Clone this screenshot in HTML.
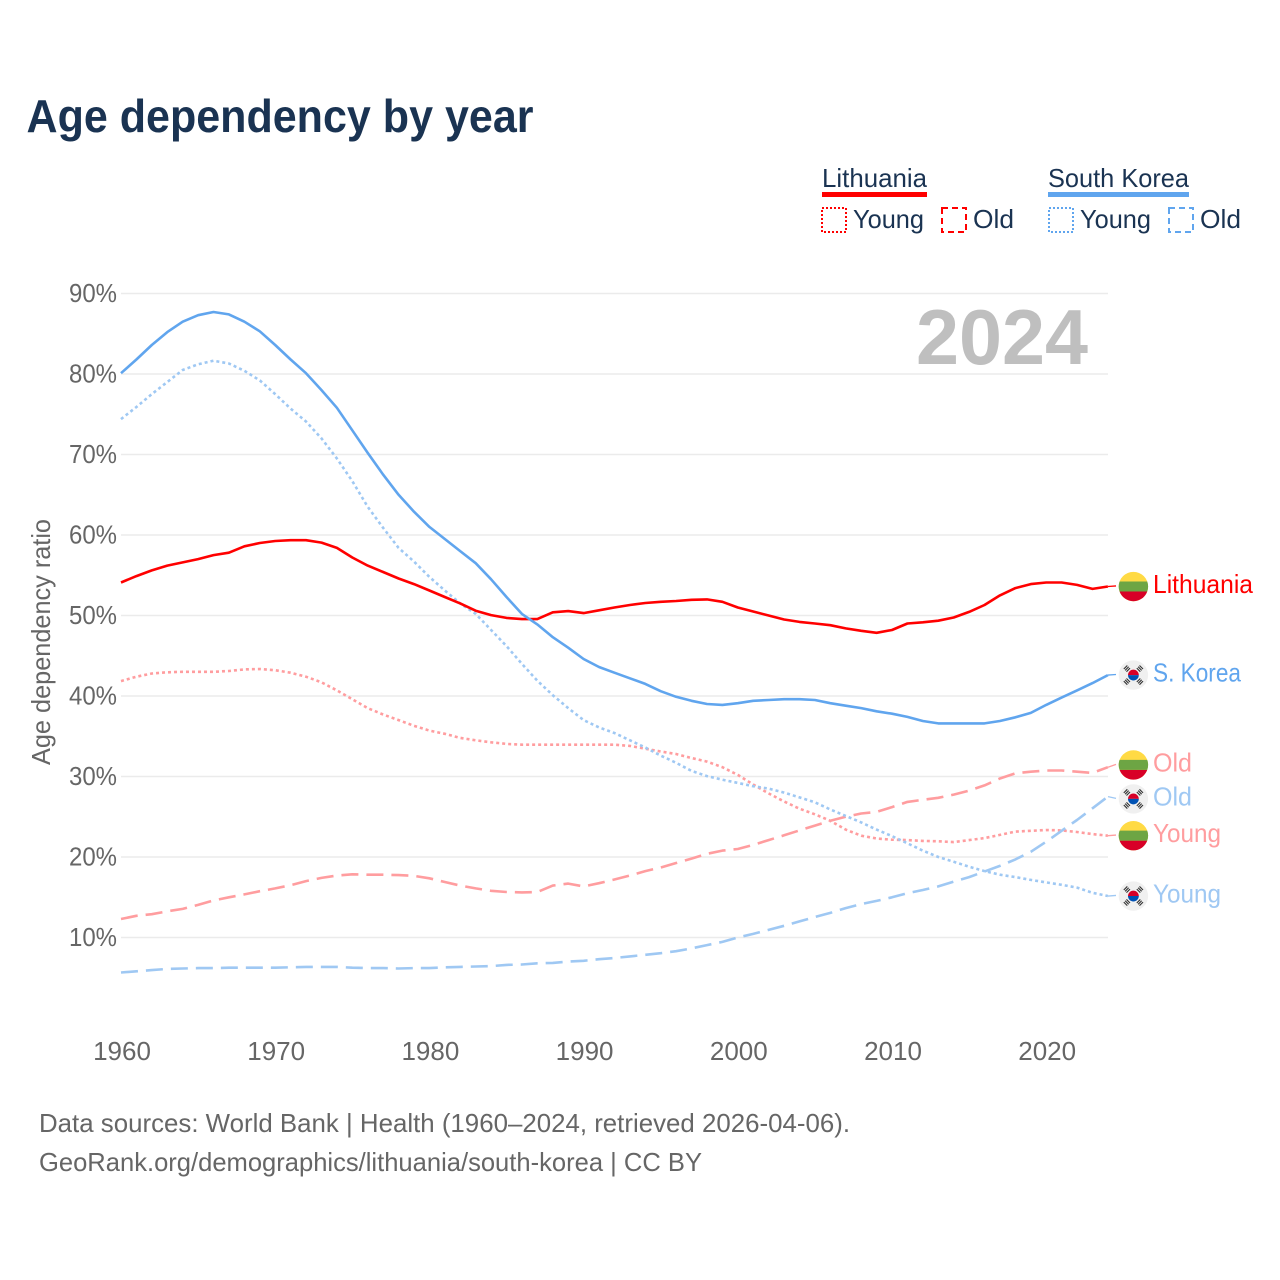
<!DOCTYPE html>
<html lang="en">
<head>
<meta charset="utf-8">
<title>Age dependency by year</title>
<style>
html,body{margin:0;padding:0;background:#fff;}
svg{display:block;}
text{font-family:"Liberation Sans",sans-serif;}
</style>
</head>
<body>
<svg id="chart" xmlns="http://www.w3.org/2000/svg" width="1280" height="1280" viewBox="0 0 1280 1280">
  <rect width="1280" height="1280" fill="#fff"/>
  <text x="26.5" y="132" font-size="46" font-weight="700" fill="#1a3352" textLength="507" lengthAdjust="spacingAndGlyphs">Age dependency by year</text>

  <g font-size="26" fill="#1a3352">
    <text x="822" y="187" textLength="105" lengthAdjust="spacingAndGlyphs">Lithuania</text>
    <rect x="822" y="192" width="105" height="5" fill="#ff0000"/>
    <rect x="822" y="208" width="24" height="24" fill="none" stroke="#ff0000" stroke-width="2" stroke-dasharray="2 2"/>
    <text x="853" y="228" textLength="71" lengthAdjust="spacingAndGlyphs">Young</text>
    <rect x="942" y="208" width="24" height="24" fill="none" stroke="#ff0000" stroke-width="2" stroke-dasharray="6 4"/>
    <text x="973" y="228" textLength="41" lengthAdjust="spacingAndGlyphs">Old</text>
    <text x="1048" y="187" textLength="141" lengthAdjust="spacingAndGlyphs">South Korea</text>
    <rect x="1048" y="192" width="141" height="5" fill="#60a5ee"/>
    <rect x="1049" y="208" width="24" height="24" fill="none" stroke="#60a5ee" stroke-width="2" stroke-dasharray="2 2"/>
    <text x="1080" y="228" textLength="71" lengthAdjust="spacingAndGlyphs">Young</text>
    <rect x="1169" y="208" width="24" height="24" fill="none" stroke="#60a5ee" stroke-width="2" stroke-dasharray="6 4"/>
    <text x="1200" y="228" textLength="41" lengthAdjust="spacingAndGlyphs">Old</text>
  </g>

  <g id="grid"></g>
  <g id="yticks"></g>
  <g id="xticks"></g>
  <text transform="translate(50,642) rotate(-90)" text-anchor="middle" font-size="26" fill="#666" textLength="246" lengthAdjust="spacingAndGlyphs">Age dependency ratio</text>
  <text id="yearLabel" x="916" y="364" font-size="78" font-weight="700" fill="#bfbfbf" textLength="172" lengthAdjust="spacingAndGlyphs">2024</text>
  <g id="series"></g>
  <g id="endLabels"></g>

  <text x="39" y="1132" font-size="26" fill="#666" textLength="811" lengthAdjust="spacingAndGlyphs">Data sources: World Bank | Health (1960–2024, retrieved 2026-04-06).</text>
  <text x="39" y="1171" font-size="26" fill="#666" textLength="663" lengthAdjust="spacingAndGlyphs">GeoRank.org/demographics/lithuania/south-korea | CC BY</text>
</svg>

<script>
const startYear = 1960;
const xTickLabels = ["1960","1970","1980","1990","2000","2010","2020"];
const yTickValues = [10,20,30,40,50,60,70,80,90];
const lithuaniaTotal = [54.1,54.9,55.6,56.2,56.6,57.0,57.5,57.8,58.6,59.0,59.25,59.35,59.35,59.05,58.4,57.2,56.2,55.4,54.6,53.9,53.1,52.3,51.5,50.6,50.05,49.7,49.55,49.55,50.4,50.55,50.3,50.65,51.0,51.3,51.55,51.7,51.8,51.95,52.0,51.7,51.0,50.5,50.0,49.5,49.2,49.0,48.8,48.4,48.1,47.85,48.2,49.0,49.15,49.35,49.75,50.45,51.3,52.5,53.4,53.9,54.1,54.1,53.8,53.3,53.6];
const koreaTotal = [80.1,81.8,83.6,85.2,86.5,87.3,87.7,87.4,86.5,85.3,83.6,81.8,80.1,78.0,75.8,73.0,70.2,67.5,65.0,62.9,61.0,59.5,58.0,56.5,54.5,52.3,50.2,48.9,47.3,46.0,44.6,43.6,42.9,42.2,41.5,40.6,39.9,39.4,39.0,38.9,39.1,39.4,39.5,39.6,39.6,39.5,39.1,38.8,38.5,38.1,37.8,37.4,36.9,36.6,36.6,36.6,36.6,36.9,37.35,37.9,38.9,39.8,40.7,41.6,42.6];
const lithuaniaYoung = [41.85,42.4,42.8,42.95,43.0,43.0,43.0,43.1,43.3,43.35,43.2,42.9,42.4,41.7,40.7,39.6,38.5,37.7,37.0,36.3,35.7,35.3,34.8,34.5,34.25,34.05,33.95,33.95,33.95,33.95,33.95,33.95,33.95,33.8,33.45,33.1,32.8,32.3,31.85,31.15,30.2,29.0,27.9,26.9,26.0,25.3,24.5,23.4,22.65,22.3,22.15,22.1,22.0,21.95,21.85,22.1,22.35,22.75,23.15,23.25,23.35,23.3,23.1,22.85,22.65];
const koreaYoung = [74.4,75.9,77.5,79.0,80.5,81.2,81.65,81.3,80.4,79.2,77.5,75.7,74.1,72.0,69.5,66.7,63.5,60.9,58.4,56.7,54.8,53.1,51.5,50.2,48.2,46.2,44.0,41.9,40.1,38.5,37.0,36.1,35.4,34.5,33.6,32.6,31.7,30.7,30.05,29.6,29.2,28.8,28.5,28.0,27.4,26.8,25.9,25.1,24.3,23.4,22.6,21.7,20.8,20.0,19.4,18.8,18.25,17.8,17.5,17.15,16.85,16.55,16.2,15.55,15.15];
const lithuaniaOld = [12.3,12.7,12.9,13.25,13.55,14.05,14.6,15.0,15.35,15.75,16.1,16.5,17.0,17.4,17.7,17.85,17.8,17.8,17.75,17.65,17.35,16.9,16.45,16.1,15.8,15.65,15.6,15.65,16.45,16.7,16.35,16.75,17.2,17.7,18.25,18.7,19.25,19.8,20.4,20.8,21.0,21.5,22.1,22.7,23.3,23.9,24.5,25.0,25.4,25.6,26.2,26.85,27.1,27.35,27.75,28.25,28.9,29.75,30.4,30.6,30.75,30.75,30.6,30.45,31.15];
const koreaOld = [5.65,5.8,5.95,6.1,6.15,6.2,6.2,6.25,6.25,6.25,6.25,6.3,6.35,6.35,6.35,6.25,6.2,6.2,6.15,6.2,6.2,6.3,6.35,6.4,6.45,6.6,6.65,6.8,6.85,7.0,7.1,7.3,7.45,7.65,7.85,8.05,8.3,8.65,9.05,9.45,10.0,10.45,10.95,11.45,12.0,12.55,13.05,13.65,14.15,14.55,15.0,15.5,15.9,16.35,16.95,17.5,18.2,18.9,19.7,20.65,21.9,23.25,24.6,26.05,27.5];

const SVGNS = "http://www.w3.org/2000/svg";
const xScale = function (year) { return 121 + (year - startYear) * 15.42; };
const yScale = function (v) { return 1018 - v * 8.05; };
const make = function (parent, tag, attrs) {
  const n = document.createElementNS(SVGNS, tag);
  for (const k in attrs) { n.setAttribute(k, attrs[k]); }
  parent.appendChild(n);
  return n;
};

const gridG = document.getElementById("grid");
const yG = document.getElementById("yticks");
const xG = document.getElementById("xticks");

yTickValues.forEach(function (v) {
  const line = make(gridG, "line", {x1: 121, x2: 1108, y1: yScale(v), y2: yScale(v), stroke: "#ebebeb", "stroke-width": 1.5});
  
  
  const label = make(yG, "text", {x: 117, y: yScale(v) + 8.5, "text-anchor": "end", "font-size": 26, fill: "#666", textLength: 48, lengthAdjust: "spacingAndGlyphs"});
  label.textContent = v + "%";
  
  
});

xTickLabels.forEach(function (t) {
  const label = make(xG, "text", {x: xScale(Number(t)) + 1, y: 1060, "text-anchor": "middle", "font-size": 26, fill: "#666"});
  label.textContent = t;
  
  
});

const seriesList = [
  {key: "lithuania-young", values: lithuaniaYoung, color: "#ff9d9f", dash: "3 3", label: "Young", flag: "lt"},
  {key: "lithuania-old", values: lithuaniaOld, color: "#ff9d9f", dash: "17 8", label: "Old", flag: "lt"},
  {key: "korea-young", values: koreaYoung, color: "#9fc8f3", dash: "3 3", label: "Young", flag: "kr"},
  {key: "korea-old", values: koreaOld, color: "#9fc8f3", dash: "17 8", label: "Old", flag: "kr"},
  {key: "lithuania-total", values: lithuaniaTotal, color: "#ff0000", dash: "", label: "Lithuania", flag: "lt"},
  {key: "korea-total", values: koreaTotal, color: "#60a5ee", dash: "", label: "S. Korea", flag: "kr"}
];
const labelWidths = {"Young": 68, "Old": 39, "Lithuania": 100, "S. Korea": 88};

const seriesG = document.getElementById("series");
seriesList.forEach(function (s) {
  const pts = s.values.map(function (v, i) { return xScale(startYear + i).toFixed(1) + "," + yScale(v).toFixed(1); }).join(" ");
  const line = make(seriesG, "polyline", {points: pts, fill: "none", stroke: s.color, "stroke-width": 2.6, "stroke-linejoin": "round"});
  if (s.dash) { line.setAttribute("stroke-dasharray", s.dash); }
  
  
});

/* end-label placement: start at each series' last value, push overlapping labels apart */
const placed = seriesList.map(function (s) {
  return {s: s, end: yScale(s.values[s.values.length - 1]), pos: yScale(s.values[s.values.length - 1])};
}).sort(function (a, b) { return a.end - b.end; });
for (let pass = 0; pass < 6; pass++) {
  for (let i = 1; i < placed.length; i++) {
    const gap = placed[i].pos - placed[i - 1].pos;
    if (gap < 34) {
      const d = (34 - gap) / 2;
      placed[i - 1].pos -= d;
      placed[i].pos += d;
    }
  }
}

const drawFlag = function (parent, code, cx, cy) {
  const g = make(parent, "g", {transform: "translate(" + cx + "," + cy + ")"});
  
  
  const r = 14.7;
  if (code === "lt") {
    make(g, "circle", {r: r, fill: "#ffda44"});
    make(g, "path", {d: "M-13.82,5 A14.7,14.7 0 0 0 13.82,5 Z", fill: "#d80027"});
    make(g, "path", {d: "M-13.82,-5 H13.82 A14.7,14.7 0 0 1 13.82,5 H-13.82 A14.7,14.7 0 0 1 -13.82,-5 Z", fill: "#6da544"});
  } else {
    make(g, "circle", {r: r, fill: "#f0f0f0"});
    make(g, "path", {d: "M-5.4,0 A5.4,5.4 0 0 1 5.4,0 Z", fill: "#d80027"});
    make(g, "path", {d: "M-5.4,0 A5.4,5.4 0 0 0 5.4,0 Z", fill: "#0052b4"});
    [45, 135, 225, 315].forEach(function (a) {
      const bars = make(g, "g", {transform: "rotate(" + a + ") translate(0,-9.2)"});
      [-1.9, 0, 1.9].forEach(function (dy) {
        make(bars, "rect", {x: -2.5, y: dy - 0.55, width: 5, height: 1.1, fill: "#333"});
      });
    });
  }
};

const endG = document.getElementById("endLabels");
placed.forEach(function (p) {
  const s = p.s;
  const conn = make(endG, "line", {x1: 1108, y1: p.end, x2: 1116, y2: p.pos - 0.6, stroke: s.color, "stroke-width": 1.3});
  
  
  drawFlag(endG, s.flag, 1133.4, p.pos);
  const label = make(endG, "text", {x: 1153, y: p.pos + 6.5, "font-size": 26, fill: s.color, textLength: labelWidths[s.label], lengthAdjust: "spacingAndGlyphs"});
  label.textContent = s.label;
  
  
});
</script>
</body>
</html>
